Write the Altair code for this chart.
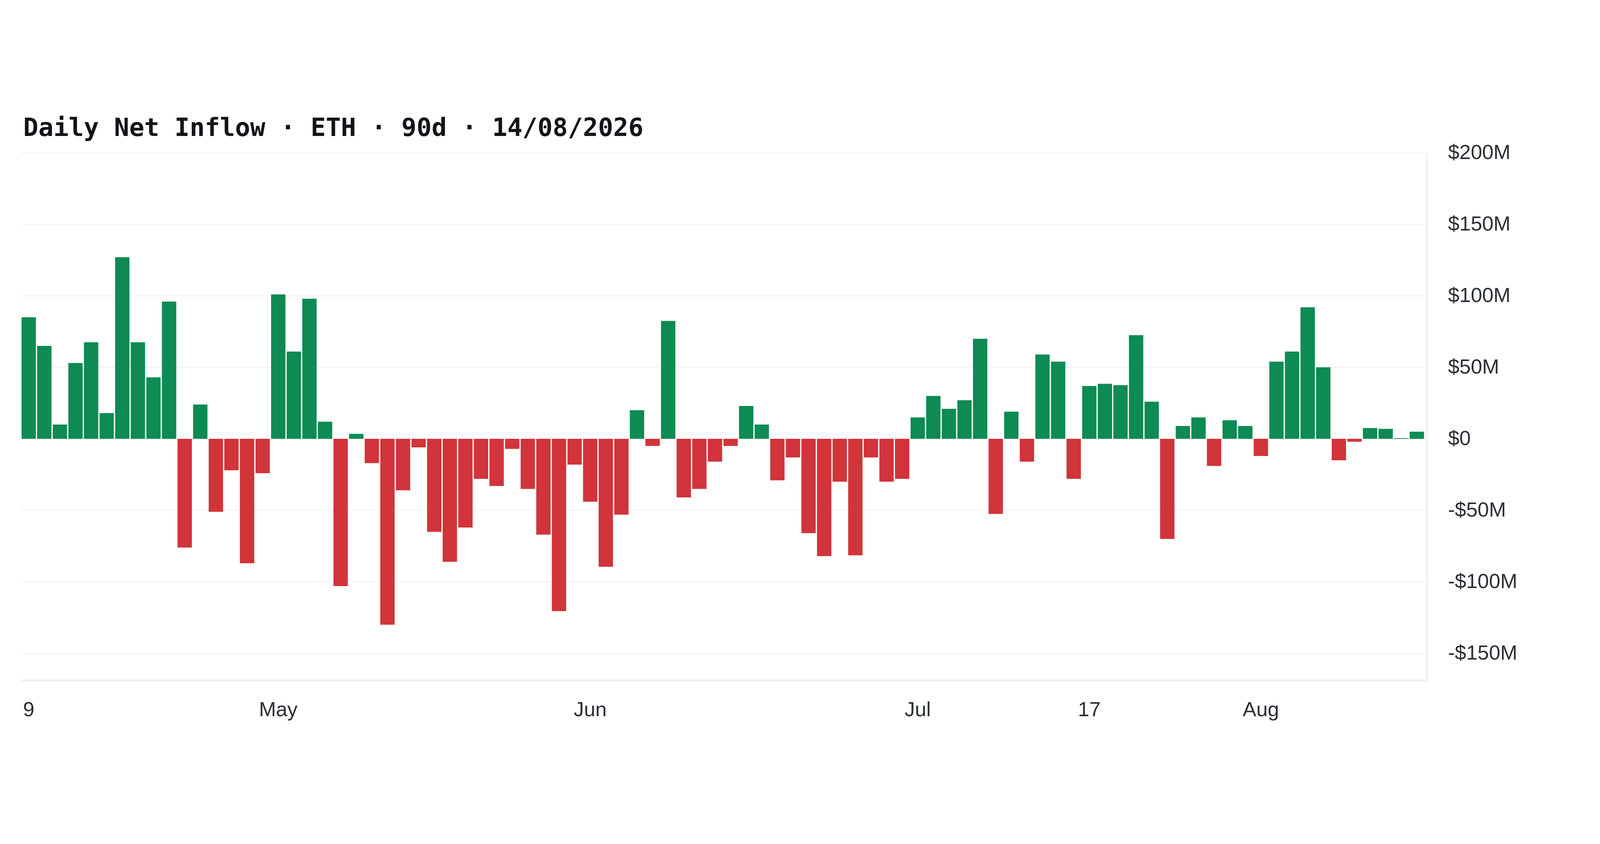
import altair as alt
import pandas as pd

# Daily net inflow values in $M, one per day (90 days)
values = [
    85, 65, 10, 53, 67.5, 18, 127, 67.5, 43, 96,
    -76, 24, -51, -22, -87, -24, 101, 61, 98, 12,
    -103, 3.5, -17, -130, -36, -6, -65, -86, -62, -28,
    -33, -7, -35, -67, -120.5, -18, -44, -89.5, -53, 20,
    -5, 82.5, -41, -35, -16, -5, 23, 10, -29, -13,
    -66, -82, -30, -81.5, -13, -30, -28, 15, 30, 21,
    27, 70, -52.5, 19, -16, 59, 54, -28, 37, 38.5,
    37.5, 72.5, 26, -70, 9, 15, -19, 13, 9, -12,
    54, 61, 92, 50, -15, -2, 7.5, 7, 0.5, 5,
]
tick_positions = [0, 16, 36, 57, 68, 79]
tick_labels = ["9", "May", "Jun", "Jul", "17", "Aug"]
y_ticks = [-150, -100, -50, 0, 50, 100, 150, 200]
title_text = "Daily Net Inflow · ETH · 90d · 14/08/2026"

df = pd.DataFrame({"day": list(range(len(values))), "net": values})
df["dir"] = ["in" if v >= 0 else "out" for v in values]

label_expr = ""
for p, l in zip(tick_positions, tick_labels):
    label_expr += f"datum.value == {p} ? '{l}' : "
label_expr += "''"

y_label_expr = ("datum.value == 0 ? '$0' : (datum.value < 0 ? '-$' : '$') + "
                "abs(datum.value) + 'M'")

chart = alt.Chart(df).mark_bar().encode(
    x=alt.X(
        "day:O",
        scale=alt.Scale(paddingInner=0.08, paddingOuter=0.09, align=0),
        axis=alt.Axis(
            values=tick_positions,
            labelExpr=label_expr,
            labelAngle=0,
            ticks=False,
            tickSize=0,
            grid=False,
            title=None,
            domain=True,
            domainColor="#e6e6e6",
            domainWidth=4,
            labelFont="Liberation Sans",
            labelFontSize=70,
            labelColor="#2b2f36",
            labelPadding=68,
            labelOverlap=False,
            labelLimit=0,
        ),
    ),
    y=alt.Y(
        "net:Q",
        scale=alt.Scale(domain=[-168.7, 200], nice=False, zero=False),
        axis=alt.Axis(
            orient="right",
            values=y_ticks,
            labelExpr=y_label_expr,
            ticks=False,
            tickSize=0,
            grid=True,
            gridColor="#f1f1f1",
            gridWidth=3.5,
            domain=True,
            domainColor="#e8e8e8",
            domainWidth=3.5,
            title=None,
            labelFont="Liberation Sans",
            labelFontSize=70,
            labelColor="#2b2f36",
            labelAlign="left",
            labelBaseline="middle",
            labelPadding=72,
            labelOverlap=False,
            labelLimit=0,
        ),
    ),
    color=alt.Color(
        "dir:N",
        scale=alt.Scale(domain=["in", "out"], range=["#0d8b53", "#d1343a"]),
        legend=None,
    ),
).properties(
    width=5455,
    height=2144,
    autosize=alt.AutoSizeParams(type="fit", contains="padding"),
    padding={"left": 63, "top": 24, "right": 272, "bottom": 52},
    title=alt.Title(
        title_text,
        anchor="start",
        font="DejaVu Sans Mono",
        fontSize=86,
        fontWeight="bold",
        color="#111418",
        offset=5,
        dx=6,
    ),
).configure_view(stroke=None)

chart.save("out.html", embed_options={"renderer": "svg", "actions": False})
